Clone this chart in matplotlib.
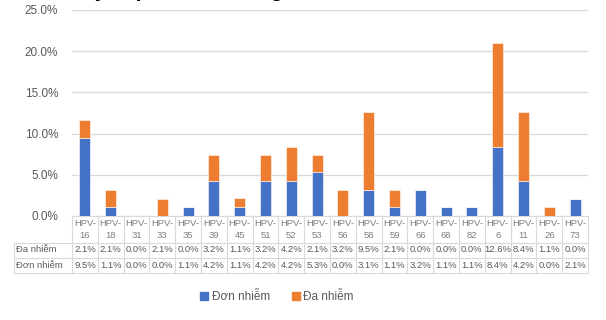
import matplotlib
matplotlib.use("Agg")
import matplotlib.pyplot as plt
import matplotlib.transforms as mtransforms
from matplotlib.patches import Patch
import numpy as np

plt.rcParams['font.family'] = ['Liberation Sans', 'DejaVu Sans']

# Data
genotypes = ['16', '18', '31', '33', '35', '39', '45', '51', '52', '53',
             '56', '58', '59', '66', '68', '82', '6', '11', '26', '73']
da_nhiem = [2.1, 2.1, 0.0, 2.1, 0.0, 3.2, 1.1, 3.2, 4.2, 2.1,
            3.2, 9.5, 2.1, 0.0, 0.0, 0.0, 12.6, 8.4, 1.1, 0.0]
don_nhiem = [9.5, 1.1, 0.0, 0.0, 1.1, 4.2, 1.1, 4.2, 4.2, 5.3,
             0.0, 3.1, 1.1, 3.2, 1.1, 1.1, 8.4, 4.2, 0.0, 2.1]
yticks = [0, 5, 10, 15, 20, 25]
title = 'Tỷ lệ phân bố kiểu gen HPV'

BLUE = '#4472C4'
ORANGE = '#ED7D31'
GRID = '#D9D9D9'
TXT = '#595959'

W, H = 606, 320
fig = plt.figure(figsize=(W / 100, H / 100), dpi=100)


def fx(px):
    return px / W


def fy(py):
    return 1 - py / H


# plot area in pixels: x 72..588, y 10..216
ax = fig.add_axes([fx(72), fy(216), fx(588) - fx(72), fy(10) - fy(216)])

x = np.arange(len(genotypes))
ax.bar(x, don_nhiem, width=0.42, color=BLUE, edgecolor='#ffffff', linewidth=0.4,
       label='Đơn nhiễm', zorder=3)
ax.bar(x, da_nhiem, width=0.42, bottom=don_nhiem, color=ORANGE, edgecolor='#ffffff',
       linewidth=0.4, label='Đa nhiễm', zorder=3)

ax.set_xlim(-0.5, len(genotypes) - 0.5)
ax.set_ylim(0, 25)
ax.set_yticks(yticks)
ax.set_yticklabels([f'{v:.1f}%' for v in yticks], color=TXT, fontsize=8.5)
ax.set_xticks([])
ax.yaxis.grid(True, color=GRID, linewidth=0.9, zorder=0)
ax.tick_params(axis='y', length=0, pad=10)
for side in ['top', 'right', 'left']:
    ax.spines[side].set_visible(False)
ax.spines['bottom'].set_color(GRID)

# data table under the axis
tr = mtransforms.blended_transform_factory(ax.transData, fig.transFigure)
for i, g in enumerate(genotypes):
    ax.text(i, fy(223), 'HPV-', transform=tr, ha='center', va='center',
            fontsize=6.8, color='#7F7F7F')
    ax.text(i, fy(236), g, transform=tr, ha='center', va='center',
            fontsize=6.8, color='#7F7F7F')
    ax.text(i, fy(250), f'{da_nhiem[i]:.1f}%', transform=tr, ha='center',
            va='center', fontsize=6.8, color=TXT)
    ax.text(i, fy(265), f'{don_nhiem[i]:.1f}%', transform=tr, ha='center',
            va='center', fontsize=6.8, color=TXT)

for b in np.arange(len(genotypes) + 1) - 0.5:
    ax.plot([b, b], [fy(216), fy(273)], transform=tr, color=GRID,
            linewidth=0.8, clip_on=False)
for py in [243, 258, 273]:
    fig.add_artist(plt.Line2D([fx(14), fx(588)], [fy(py), fy(py)],
                              color=GRID, linewidth=0.8))
fig.add_artist(plt.Line2D([fx(14), fx(14)], [fy(243), fy(273)],
                          color=GRID, linewidth=0.8))
fig.text(fx(16), fy(250), 'Đa nhiễm', ha='left', va='center', fontsize=6.8, color=TXT)
fig.text(fx(16), fy(265), 'Đơn nhiễm', ha='left', va='center', fontsize=6.8, color=TXT)

# legend
handles = [Patch(color=BLUE, label='Đơn nhiễm'), Patch(color=ORANGE, label='Đa nhiễm')]
fig.legend(handles=handles, loc='center', bbox_to_anchor=(fx(277), fy(297)),
           ncol=2, frameon=False, fontsize=8.5, handlelength=0.7, handleheight=0.7,
           handletextpad=0.3, columnspacing=1.8, labelcolor=TXT)

# title (cut off at the top in the reference, only descenders show)
fig.text(fx(82), fy(-3), title, ha='left', va='baseline', fontsize=15,
         fontweight='bold', color='black')

fig.savefig('out.png', dpi=100)
